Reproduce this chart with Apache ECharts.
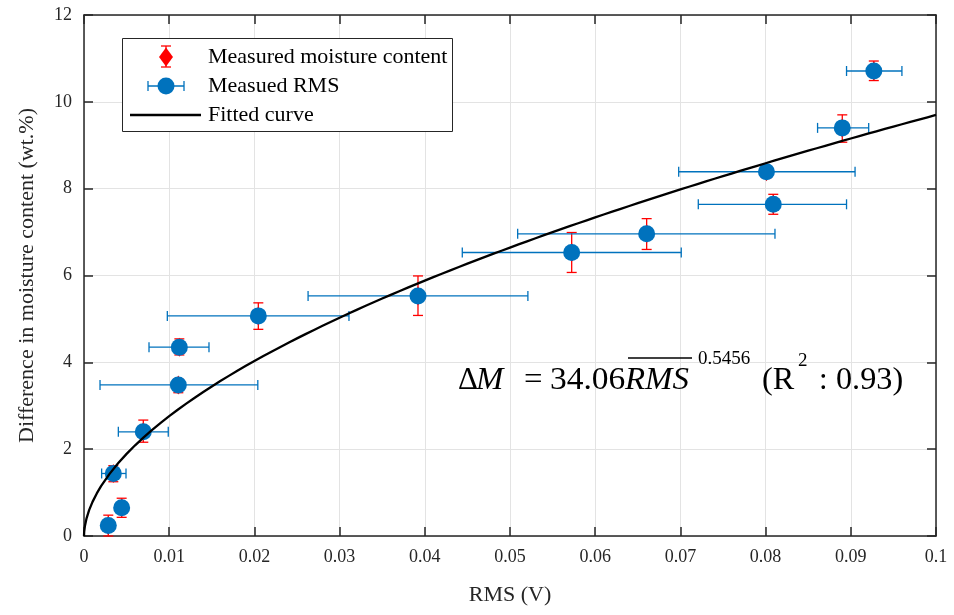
<!DOCTYPE html>
<html>
<head>
<meta charset="utf-8">
<script src="https://cdn.jsdelivr.net/npm/echarts@6/dist/echarts.min.js"></script>
<style>html,body{margin:0;padding:0;background:#fff;}#chart{width:954px;height:615px;}</style>
</head>
<body>
<div id="chart"></div>
<script>
// ---- data ----
const rms       = [0.00285, 0.00442, 0.00344, 0.00696, 0.01107, 0.01119, 0.02046, 0.0392, 0.05724, 0.06604, 0.0809, 0.0801, 0.0890, 0.0927];
const rmsLow    = [0.0025, 0.0041, 0.00207, 0.00403, 0.00188, 0.00763, 0.00978, 0.0263, 0.0444, 0.0509, 0.0721, 0.0698, 0.0861, 0.0895];
const rmsHigh   = [0.0032, 0.0048, 0.00493, 0.00989, 0.0204, 0.01467, 0.0311, 0.0521, 0.0701, 0.0811, 0.0895, 0.0905, 0.0921, 0.0960];
const moisture  = [0.24, 0.65, 1.44, 2.40, 3.48, 4.35, 5.07, 5.53, 6.53, 6.96, 7.64, 8.39, 9.40, 10.71];
const moistLow  = [0.00, 0.43, 1.25, 2.16, 3.30, 4.17, 4.76, 5.08, 6.07, 6.60, 7.41, 8.25, 9.07, 10.49];
const moistHigh = [0.48, 0.87, 1.62, 2.67, 3.62, 4.54, 5.37, 5.99, 6.99, 7.31, 7.87, 8.52, 9.70, 10.94];
const fitCoef   = [34.06, 0.5456];   // ΔM = a * RMS^b  (as printed on the chart)
const xTickLabels = ['0','0.01','0.02','0.03','0.04','0.05','0.06','0.07','0.08','0.09','0.1'];
const yTickLabels = ['0','2','4','6','8','10','12'];
const legendNames = ['Measured moisture content','Measued RMS','Fitted curve'];

// fitted curve samples (dense near zero for the steep start)
const fitX = [0, 0.00002, 0.0001, 0.0003, 0.0006, 0.001, 0.0015];
for (let i = 2; i <= 100; i++) fitX.push(i / 1000);
const fitData = fitX.map(x => [x, fitCoef[0] * Math.pow(x, fitCoef[1])]);

const RED = '#ff0000', BLUE = '#0072BD', AX = '#262626';
const FONT = '"Liberation Serif", "Times New Roman", serif';

const chart = echarts.init(document.getElementById('chart'), null, {renderer: 'canvas'});

function vBar(params, api) {
  const x = api.value(0), lo = api.value(1), hi = api.value(2);
  const p1 = api.coord([x, lo]), p2 = api.coord([x, hi]);
  const c = 5;
  const st = {stroke: RED, lineWidth: 1.3};
  return {type: 'group', children: [
    {type: 'line', shape: {x1: p1[0], y1: p1[1], x2: p2[0], y2: p2[1]}, style: st},
    {type: 'line', shape: {x1: p1[0]-c, y1: p1[1], x2: p1[0]+c, y2: p1[1]}, style: st},
    {type: 'line', shape: {x1: p2[0]-c, y1: p2[1], x2: p2[0]+c, y2: p2[1]}, style: st}
  ]};
}
function hBar(params, api) {
  const y = api.value(0), lo = api.value(1), hi = api.value(2);
  const p1 = api.coord([lo, y]), p2 = api.coord([hi, y]);
  const c = 5;
  const st = {stroke: BLUE, lineWidth: 1.3};
  return {type: 'group', children: [
    {type: 'line', shape: {x1: p1[0], y1: p1[1], x2: p2[0], y2: p2[1]}, style: st},
    {type: 'line', shape: {x1: p1[0], y1: p1[1]-c, x2: p1[0], y2: p1[1]+c}, style: st},
    {type: 'line', shape: {x1: p2[0], y1: p2[1]-c, x2: p2[0], y2: p2[1]+c}, style: st}
  ]};
}

const axisCommon = {
  type: 'value',
  axisLine: {show: true, onZero: false, lineStyle: {color: AX, width: 1.5}},
  axisTick: {show: true, inside: true, length: 9, lineStyle: {color: AX, width: 1.5}},
};

function eqText(x, y, text, font, sx) {
  return {type: 'text', x: x, y: y, scaleX: sx, z: 101,
    style: {x: 0, y: 0, text: text, font: font, fill: '#000', textVerticalAlign: 'middle'}};
}

const option = {
  animation: false,
  backgroundColor: '#fff',
  grid: {left: 84, right: 18, top: 15, bottom: 79, containLabel: false},
  xAxis: [
    Object.assign({}, axisCommon, {
      position: 'bottom', min: 0, max: 0.1, interval: 0.01,
      name: 'RMS (V)', nameLocation: 'middle', nameGap: 48,
      nameTextStyle: {fontFamily: FONT, fontSize: 22, color: AX},
      axisLabel: {margin: 12, fontFamily: FONT, fontSize: 18, color: AX,
        formatter: v => xTickLabels[Math.round(v / 0.01)]},
      splitLine: {show: true, lineStyle: {color: '#e3e3e3', width: 1}}
    }),
    Object.assign({}, axisCommon, {
      position: 'top', min: 0, max: 0.1, interval: 0.01,
      axisLabel: {show: false}, splitLine: {show: false}
    })
  ],
  yAxis: [
    Object.assign({}, axisCommon, {
      position: 'left', min: 0, max: 12, interval: 2,
      name: 'Difference in moisture content (wt.%)', nameLocation: 'middle', nameGap: 46,
      nameTextStyle: {fontFamily: FONT, fontSize: 22, color: AX},
      axisLabel: {margin: 12, fontFamily: FONT, fontSize: 18, color: AX,
        formatter: v => yTickLabels[Math.round(v / 2)]},
      splitLine: {show: true, lineStyle: {color: '#e3e3e3', width: 1}}
    }),
    Object.assign({}, axisCommon, {
      position: 'right', min: 0, max: 12, interval: 2,
      axisLabel: {show: false}, splitLine: {show: false}
    })
  ],
  series: [
    {type: 'custom', name: legendNames[0] + ' error', renderItem: vBar, z: 2,
     data: rms.map((x, i) => [x, moistLow[i], moistHigh[i]])},
    {type: 'scatter', name: legendNames[0], symbol: 'diamond', symbolSize: [12, 19], z: 3,
     itemStyle: {color: RED, opacity: 1}, data: rms.map((x, i) => [x, moisture[i]])},
    {type: 'custom', name: legendNames[1] + ' error', renderItem: hBar, z: 4,
     data: moisture.map((y, i) => [y, rmsLow[i], rmsHigh[i]])},
    {type: 'scatter', name: legendNames[1], symbol: 'circle', symbolSize: 17, z: 5,
     itemStyle: {color: BLUE, opacity: 1}, data: rms.map((x, i) => [x, moisture[i]])},
    {type: 'line', name: legendNames[2], showSymbol: false, z: 6, clip: true,
     lineStyle: {color: '#000', width: 2.3}, data: fitData}
  ],
  graphic: [
    // legend box
    {type: 'rect', left: 122, top: 38, shape: {width: 330, height: 93},
     style: {fill: '#fff', stroke: AX, lineWidth: 1}, z: 100},
    // entry 1: red diamond with vertical error bar
    {type: 'line', shape: {x1: 166, y1: 46, x2: 166, y2: 67}, style: {stroke: RED, lineWidth: 1.3}, z: 101},
    {type: 'line', shape: {x1: 161, y1: 46, x2: 171, y2: 46}, style: {stroke: RED, lineWidth: 1.3}, z: 101},
    {type: 'line', shape: {x1: 161, y1: 67, x2: 171, y2: 67}, style: {stroke: RED, lineWidth: 1.3}, z: 101},
    {type: 'polygon', shape: {points: [[166, 47.5], [173, 57], [166, 66.5], [159, 57]]}, style: {fill: RED}, z: 102},
    {type: 'text', style: {x: 208, y: 57, text: legendNames[0], font: '22px ' + FONT, fill: '#000', textVerticalAlign: 'middle'}, z: 101},
    // entry 2: blue circle with horizontal error bar
    {type: 'line', shape: {x1: 148, y1: 86, x2: 184, y2: 86}, style: {stroke: BLUE, lineWidth: 1.3}, z: 101},
    {type: 'line', shape: {x1: 148, y1: 81, x2: 148, y2: 91}, style: {stroke: BLUE, lineWidth: 1.3}, z: 101},
    {type: 'line', shape: {x1: 184, y1: 81, x2: 184, y2: 91}, style: {stroke: BLUE, lineWidth: 1.3}, z: 101},
    {type: 'circle', shape: {cx: 166, cy: 86, r: 8.5}, style: {fill: BLUE}, z: 102},
    {type: 'text', style: {x: 208, y: 86, text: legendNames[1], font: '22px ' + FONT, fill: '#000', textVerticalAlign: 'middle'}, z: 101},
    // entry 3: fitted curve
    {type: 'line', shape: {x1: 130, y1: 115, x2: 201, y2: 115}, style: {stroke: '#000', lineWidth: 2.3}, z: 101},
    {type: 'text', style: {x: 208, y: 115, text: legendNames[2], font: '22px ' + FONT, fill: '#000', textVerticalAlign: 'middle'}, z: 101},
    // equation
    eqText(458, 381, 'Δ', '31px ' + FONT, 1.0),
    eqText(476, 381, 'M', 'italic 31px ' + FONT, 1.06),
    eqText(524, 381, '=', '31px ' + FONT, 1.06),
    eqText(550, 381, '34.06', '31px ' + FONT, 1.08),
    eqText(625, 381, 'RMS', 'italic 31px ' + FONT, 1.06),
    {type: 'line', shape: {x1: 628, y1: 358, x2: 692, y2: 358}, style: {stroke: '#000', lineWidth: 1.3}, z: 101},
    eqText(698, 359, '0.5456', '19px ' + FONT, 1.0),
    eqText(762, 381, '(R', '31px ' + FONT, 1.04),
    eqText(798, 361, '2', '19px ' + FONT, 1.0),
    eqText(819, 381, ':', '31px ' + FONT, 1.0),
    eqText(836, 381, '0.93)', '31px ' + FONT, 1.04)
  ]
};
chart.setOption(option);
</script>
</body>
</html>
